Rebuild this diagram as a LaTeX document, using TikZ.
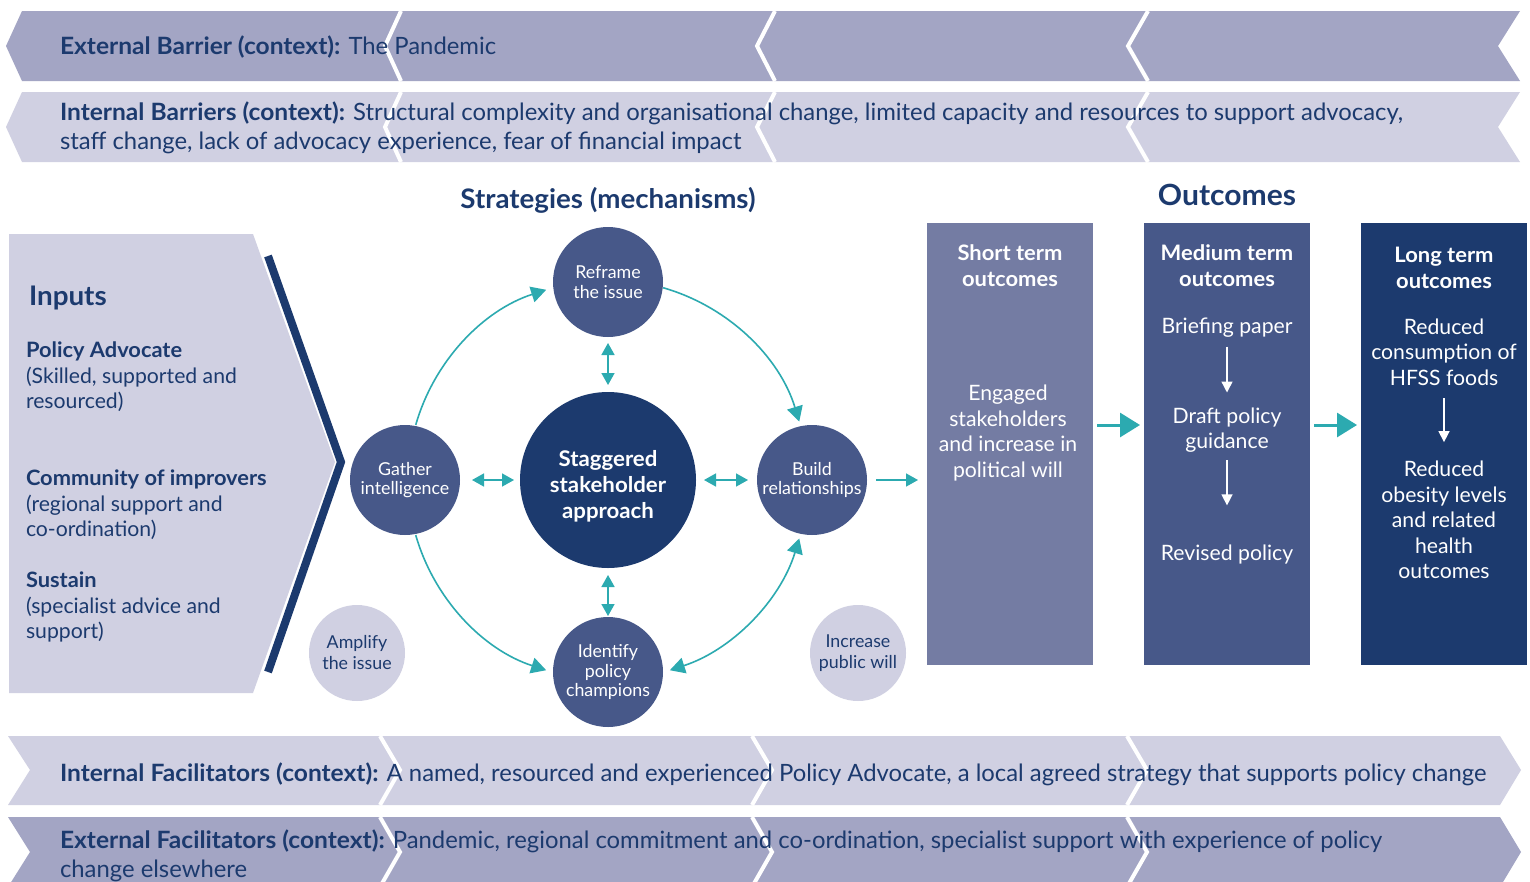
\documentclass[tikz,border=0pt]{standalone}
\usepackage{fontspec}
\setmainfont{Lato}[BoldFeatures={FakeStretch=1.03}]
\usetikzlibrary{arrows.meta,calc}
\definecolor{navy}{RGB}{28,58,110}
\definecolor{midblue}{RGB}{71,88,137}
\definecolor{slate}{RGB}{116,124,163}
\definecolor{lavdark}{RGB}{163,165,196}
\definecolor{lavlight}{RGB}{208,208,226}
\definecolor{tealc}{RGB}{44,170,176}
\newcommand\myfs[2]{\fontsize{#1}{#2}\selectfont}
\begin{document}
\begin{tikzpicture}[x=1pt,y=-1pt,
  every node/.style={inner sep=0pt, outer sep=0pt},
  sepline/.style={white, line width=4pt, line join=miter},
  bannertext/.style={text=navy, font=\myfs{23.85}{29}, align=left},
  circ/.style={circle, fill=midblue, minimum size=110pt, text=white, align=center, font=\myfs{17.8}{19.5}},
  lightcirc/.style={circle, fill=lavlight, minimum size=96pt, text=navy, align=center, font=\myfs{17.8}{21}},
  outbox/.style={minimum width=166pt, minimum height=442pt},
  boxtitle/.style={text=white, align=center, font=\bfseries\myfs{21.3}{26}},
  boxbody/.style={text=white, align=center, font=\myfs{21.2}{25.5}},
  inputtext/.style={text=navy, align=left, font=\myfs{21.2}{25.5}},
  tline/.style={tealc, line width=1.6pt},
  dbl/.style={tline, {Triangle[length=12pt,width=13pt]}-{Triangle[length=12pt,width=13pt]}},
  arcdbl/.style={tline, {Triangle[length=15pt,width=16pt]}-{Triangle[length=15pt,width=16pt]}},
  sgl/.style={tline, -{Triangle[length=12pt,width=13pt]}},
  arcsgl/.style={tline, -{Triangle[length=15pt,width=16pt]}},
  bigarrow/.style={tealc, line width=3pt, -{Triangle[length=20pt,width=24pt]}},
  warrow/.style={white, line width=1.4pt, -{Triangle[length=11pt,width=11pt]}}
]
\useasboundingbox (0,0) rectangle (1530,881);
\fill[white] (0,0) rectangle (1530,881);

% ---- top banners (pointing left)
\fill[lavdark] (22,11) -- (6,46) -- (22,81) -- (1520,81) -- (1498,46) -- (1520,11) -- cycle;
\draw[sepline] (401,11) -- (385,46) -- (401,81);
\draw[sepline] (775,11) -- (757,46) -- (775,81);
\draw[sepline] (1148,11) -- (1128,46) -- (1148,81);
\fill[lavlight] (22,92) -- (6,127) -- (22,162) -- (1520,162) -- (1498,127) -- (1520,92) -- cycle;
\draw[sepline] (401,92) -- (385,127) -- (401,162);
\draw[sepline] (775,92) -- (757,127) -- (775,162);
\draw[sepline] (1148,92) -- (1128,127) -- (1148,162);

\node[bannertext, anchor=base west] (extbar) at (60,54) {\textbf{External Barrier (context):} The Pandemic};
\node[bannertext, anchor=north west] (intbar) at (60,101.5) {\textbf{Internal Barriers (context):} Structural complexity and organisational change, limited capacity and resources to support advocacy,\\staff change, lack of advocacy experience, fear of financial impact};

% ---- bottom banners (pointing right)
\fill[lavlight] (8,736) -- (30,770) -- (8,805) -- (1500,805) -- (1521,770) -- (1500,736) -- cycle;
\draw[sepline] (380,736) -- (400,770) -- (380,805);
\draw[sepline] (752,736) -- (772,770) -- (752,805);
\draw[sepline] (1127,736) -- (1147,770) -- (1127,805);
\fill[lavdark] (8,817) -- (30,852) -- (8,887) -- (1500,887) -- (1521,852) -- (1500,817) -- cycle;
\draw[sepline] (380,817) -- (400,852) -- (380,887);
\draw[sepline] (752,817) -- (772,852) -- (752,887);
\draw[sepline] (1127,817) -- (1147,852) -- (1127,887);

\node[bannertext, anchor=base west] (intfac) at (60,781) {\textbf{Internal Facilitators (context):} A named, resourced and experienced Policy Advocate, a local agreed strategy that supports policy change};
\node[bannertext, anchor=north west] (extfac) at (60,829.5) {\textbf{External Facilitators (context):} Pandemic, regional commitment and co-ordination, specialist support with experience of policy\\change elsewhere};

% ---- inputs panel
\fill[lavlight] (9,234) -- (253,234) -- (335,462) -- (253,693) -- (9,693) -- cycle;
\draw[navy, line width=8pt, line join=miter] (268,256) -- (341,462) -- (268,672);
\node[text=navy, font=\bfseries\myfs{27}{30}, anchor=north west] (inputs) at (29,286) {Inputs};
\node[inputtext, anchor=north west] (padv) at (26,342) {\textbf{Policy Advocate}\\(Skilled, supported and\\resourced)};
\node[inputtext, anchor=north west] (comm) at (26,470) {\textbf{Community of improvers}\\(regional support and\\co-ordination)};
\node[inputtext, anchor=north west] (sust) at (26,572) {\textbf{Sustain}\\(specialist advice and\\support)};

% ---- headings
\node[text=navy, font=\bfseries\myfs{26.9}{30}] (strat) at (608,200) {Strategies (mechanisms)};
\node[text=navy, font=\bfseries\myfs{29.2}{32}] (outc) at (1227,195) {Outcomes};

% ---- circles
\coordinate (C) at (608,480);
\node[circle, fill=navy, minimum size=176pt] (core) at (C) {};
\node[text=white, align=center, font=\bfseries\myfs{21.6}{26}] (coretext) at (608,486) {Staggered\\stakeholder\\approach};
\node[circ] (reframe) at (608,282) {Reframe\\the issue};
\node[circ] (gather) at (405,480) {Gather\\intelligence};
\node[circ] (build) at (812,480) {Build\\relationships};
\node[circ] (identify) at (608,672) {Identify\\policy\\champions};
\node[lightcirc] (amplify) at (357,653) {Amplify\\the issue};
\node[lightcirc] (increase) at (858,653) {Increase\\public will};

\draw[dbl, shorten <=12pt, shorten >=6pt] (gather) -- (core);
\draw[dbl, shorten <=6pt, shorten >=7pt] (reframe) -- (core);
\draw[dbl, shorten <=8pt, shorten >=9pt] (core) -- (build);
\draw[dbl, shorten <=7pt, shorten >=1pt] (core) -- (identify);
\draw[sgl, shorten <=9pt, shorten >=9pt] (build) -- (build -| 927,0);

\draw[arcsgl] ($(C)+(-164:200)$) arc[start angle=-164, end angle=-108, radius=200];
\draw[arcsgl] ($(C)+(-74:200)$) arc[start angle=-74, end angle=-17, radius=200];
\draw[arcsgl] ($(C)+(-196:200)$) arc[start angle=-196, end angle=-252, radius=200];
\draw[arcdbl] ($(C)+(-288:200)$) arc[start angle=-288, end angle=-343, radius=200];

% ---- outcome boxes
\node[outbox, fill=slate] (short) at (1010,444) {};
\node[outbox, fill=midblue] (medium) at (1227,444) {};
\node[outbox, fill=navy] (long) at (1444,444) {};

\node[boxtitle] (shortt) at (1010,266) {Short term\\outcomes};
\node[boxtitle] (mediumt) at (1227,266) {Medium term\\outcomes};
\node[boxtitle] (longt) at (1444,268) {Long term\\outcomes};

\node[boxbody] (engaged) at (1008,433) {Engaged\\stakeholders\\and increase in\\political will};
\node[boxbody] (brief) at (1227,328) {Briefing paper};
\node[boxbody] (draft) at (1227,430) {Draft policy\\guidance};
\node[boxbody] (revised) at (1227,555) {Revised policy};
\node[boxbody] (hfss) at (1444,352) {Reduced\\consumption of\\HFSS foods};
\node[boxbody] (obesity) at (1444,520) {Reduced\\obesity levels\\and related\\health\\outcomes};

\draw[warrow, shorten <=9pt, shorten >=15pt] (brief) -- (draft);
\draw[warrow, shorten <=8pt, shorten >=40pt] (draft) -- (revised);
\draw[warrow, shorten <=13pt, shorten >=19pt] (hfss) -- (obesity);

\draw[bigarrow, shorten <=4pt, shorten >=4pt] ([yshift=19pt]short.east) -- ([yshift=19pt]medium.west);
\draw[bigarrow, shorten <=4pt, shorten >=4pt] ([yshift=19pt]medium.east) -- ([yshift=19pt]long.west);
\end{tikzpicture}
\end{document}
